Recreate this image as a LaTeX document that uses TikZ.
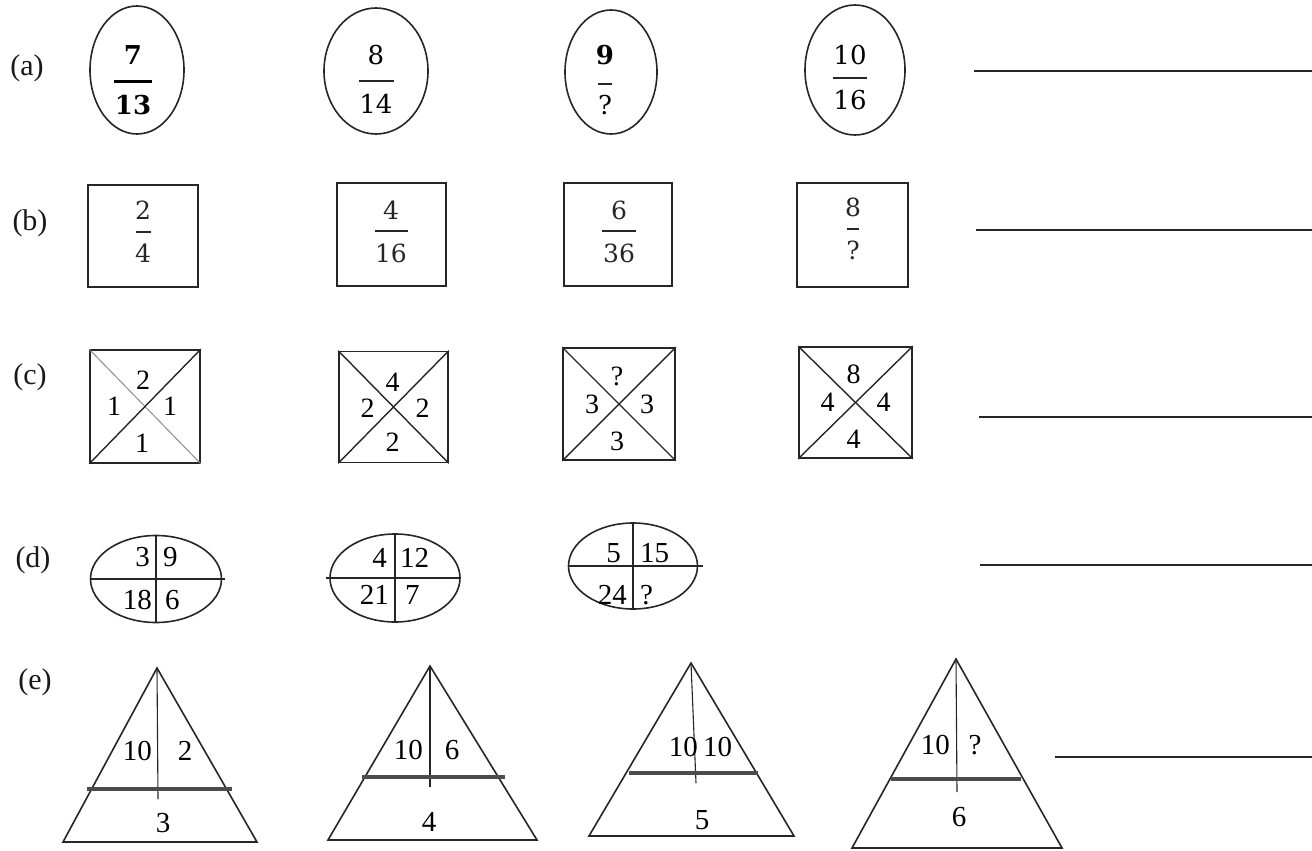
\documentclass[tikz,border=0pt]{standalone}
\usepackage{fontspec}
\usetikzlibrary{shapes.geometric,calc}
\newfontfamily\tms{Liberation Serif}
\newfontfamily\frf{DejaVu Serif}
\begin{document}
\begin{tikzpicture}[x=1pt,y=-1pt,
  ink/.style={draw=black!85, line width=1.6pt},
  lbl/.style={font=\tms\fontsize{30}{32}\selectfont, inner sep=0pt, text=black!90},
  fa/.style={font=\frf\fontsize{26}{30}\selectfont, inner sep=0pt},
  fab/.style={font=\frf\bfseries\fontsize{26}{30}\selectfont, inner sep=0pt},
  fb/.style={font=\frf\fontsize{25}{28}\selectfont, inner sep=0pt, text=black!85},
  nc/.style={font=\tms\fontsize{28}{30}\selectfont, inner sep=0pt},
  nd/.style={font=\tms\fontsize{29}{32}\selectfont, inner sep=0pt},
  oval/.style={ellipse, ink, inner sep=0pt},
  sq/.style={rectangle, ink, inner sep=0pt},
  fbar/.style={draw=black!85, line width=2pt},
  fbarb/.style={draw=black, line width=3pt},
  shelf/.style={draw=black!70, line width=4pt},
  axis/.style={draw=black!85, line width=1.1pt},
  ans/.style={draw=black!85, line width=1.8pt},
]
\useasboundingbox (0,0) rectangle (1312,851);

% ---------- (a)
\node[lbl] (la) at (27,68) {(a)};
\node[oval, minimum width=94, minimum height=128] (A1) at (137,70) {};
\node[oval, minimum width=104, minimum height=126] (A2) at (376,71) {};
\node[oval, minimum width=92, minimum height=124] (A3) at (611,72) {};
\node[oval, minimum width=100, minimum height=130] (A4) at (855,70) {};
\node[fab] (a1n) at (133,55) {7};
\draw[fbarb] (114,82) -- (152,82);
\node[fab] (a1d) at (133,105) {13};
\node[fa] (a2n) at (376,55) {8};
\draw[fbar] (359,81) -- (394,81);
\node[fa] (a2d) at (376,104) {14};
\node[fab] (a3n) at (605,55) {9};
\draw[fbar] (598,84) -- (612,84);
\node[fa] (a3d) at (605,105) {?};
\node[fa] (a4n) at (850,55) {10};
\draw[fbar] (833,78) -- (867,78);
\node[fa] (a4d) at (850,100) {16};
\coordinate (ansa1) at (974,71);
\coordinate (ansa2) at (1312,71);
\draw[ans] (ansa1) -- (ansa2);

% ---------- (b)
\node[lbl] (lb) at (30,223) {(b)};
\node[sq, minimum width=110, minimum height=102] (B1) at (143,236) {};
\node[sq, minimum width=109, minimum height=103] (B2) at (391.5,234.5) {};
\node[sq, minimum width=108, minimum height=103] (B3) at (618,234.5) {};
\node[sq, minimum width=111, minimum height=104] (B4) at (852.5,235) {};
\node[fb] (b1n) at (143,210) {2};
\draw[fbar] (136,232) -- (151,232);
\node[fb] (b1d) at (143,253) {4};
\node[fb] (b2n) at (391,210) {4};
\draw[fbar] (375,231) -- (408,231);
\node[fb] (b2d) at (391,253) {16};
\node[fb] (b3n) at (619,210) {6};
\draw[fbar] (602,231) -- (636,231);
\node[fb] (b3d) at (619,253) {36};
\node[fb] (b4n) at (853,207) {8};
\draw[fbar] (847,229) -- (859,229);
\node[fb] (b4d) at (853,250) {?};
\coordinate (ansb1) at (976,230);
\coordinate (ansb2) at (1312,230);
\draw[ans] (ansb1) -- (ansb2);

% ---------- (c)
\node[lbl] (lc) at (30,377) {(c)};
\node[sq, minimum width=110, minimum height=113] (C1) at (145,406.5) {};
\node[sq, minimum width=109, minimum height=111] (C2) at (393.5,407) {};
\node[sq, minimum width=112, minimum height=112] (C3) at (619,404) {};
\node[sq, minimum width=113, minimum height=111] (C4) at (855.5,402.5) {};
\draw[draw=black!45, line width=1pt] (C1.north west) -- (C1.south east);
\draw[ink, line width=1.4pt] (C1.south west) -- (C1.north east);
\foreach \c in {C2,C3,C4}{
  \draw[ink, line width=1.4pt] (\c.north west) -- (\c.south east);
  \draw[ink, line width=1.4pt] (\c.south west) -- (\c.north east);
}
\node[nc] (c1t) at ($(C1.center)+(-2,-26)$) {2};
\node[nc] (c1l) at ($(C1.center)+(-31,0)$) {1};
\node[nc] (c1r) at ($(C1.center)+(25,0)$) {1};
\node[nc] (c1b) at ($(C1.center)+(-3,37)$) {1};
\node[nc] (c2t) at ($(C2.center)+(-1,-25)$) {4};
\node[nc] (c2l) at ($(C2.center)+(-26,1)$) {2};
\node[nc] (c2r) at ($(C2.center)+(29,1)$) {2};
\node[nc] (c2b) at ($(C2.center)+(-1,35)$) {2};
\node[nc] (c3t) at ($(C3.center)+(-2,-28)$) {?};
\node[nc] (c3l) at ($(C3.center)+(-27,0)$) {3};
\node[nc] (c3r) at ($(C3.center)+(28,0)$) {3};
\node[nc] (c3b) at ($(C3.center)+(-2,37)$) {3};
\node[nc] (c4t) at ($(C4.center)+(-2,-28)$) {8};
\node[nc] (c4l) at ($(C4.center)+(-28,0)$) {4};
\node[nc] (c4r) at ($(C4.center)+(28,0)$) {4};
\node[nc] (c4b) at ($(C4.center)+(-2,37)$) {4};
\coordinate (ansc1) at (979,417);
\coordinate (ansc2) at (1312,417);
\draw[ans] (ansc1) -- (ansc2);

% ---------- (d)
\node[lbl] (ld) at (33,560) {(d)};
\node[oval, minimum width=131, minimum height=87] (D1) at (156,579) {};
\node[oval, minimum width=130, minimum height=88] (D2) at (395,578) {};
\node[oval, minimum width=129, minimum height=86] (D3) at (633,566) {};
\foreach \d in {D1,D2,D3}{
  \draw[axis, line width=1.4pt] (\d.north) -- (\d.south);
}
\draw[axis, line width=1.4pt] (D1.west) -- ([xshift=3pt]D1.east);
\draw[axis, line width=1.4pt] ([xshift=-3pt]D2.west) -- (D2.east);
\draw[axis, line width=1.4pt] (D3.west) -- ([xshift=5pt]D3.east);
\node[nd, anchor=east] (d1a) at ($(D1.center)+(-6,-22)$) {3};
\node[nd, anchor=west] (d1b) at ($(D1.center)+(7,-22)$) {9};
\node[nd, anchor=east] (d1c) at ($(D1.center)+(-4,21)$) {18};
\node[nd, anchor=west] (d1d) at ($(D1.center)+(9,21)$) {6};
\node[nd, anchor=east] (d2a) at ($(D2.center)+(-8,-20)$) {4};
\node[nd, anchor=west] (d2b) at ($(D2.center)+(5,-20)$) {12};
\node[nd, anchor=east] (d2c) at ($(D2.center)+(-6,17)$) {21};
\node[nd, anchor=west] (d2d) at ($(D2.center)+(10,17)$) {7};
\node[nd, anchor=east] (d3a) at ($(D3.center)+(-12,-13)$) {5};
\node[nd, anchor=west] (d3b) at ($(D3.center)+(7,-13)$) {15};
\node[nd, anchor=east] (d3c) at ($(D3.center)+(-6,29)$) {24};
\node[nd, anchor=west] (d3d) at ($(D3.center)+(7,29)$) {?};
\coordinate (ansd1) at (980,565);
\coordinate (ansd2) at (1312,565);
\draw[ans] (ansd1) -- (ansd2);

% ---------- (e)
\node[lbl] (le) at (35,682) {(e)};
% triangle 1
\coordinate (t1a) at (157,668); \coordinate (t1l) at (63,842); \coordinate (t1r) at (257,842);
\draw[ink, line join=miter] (t1a) -- (t1l) -- (t1r) -- cycle;
\draw[axis] (t1a) -- (158,799);
\draw[shelf] (87,789) -- (232,789);
\node[nd, anchor=east] (e1a) at (152,751) {10};
\node[nd] (e1b) at (185,751) {2};
\node[nd] (e1c) at (163,823) {3};
% triangle 2
\coordinate (t2a) at (430,666); \coordinate (t2l) at (328,840); \coordinate (t2r) at (537,840);
\draw[ink, line join=miter] (t2a) -- (t2l) -- (t2r) -- cycle;
\draw[axis] (t2a) -- (430,787);
\draw[shelf] (362,777) -- (505,777);
\node[nd, anchor=east] (e2a) at (423,750) {10};
\node[nd] (e2b) at (452,750) {6};
\node[nd] (e2c) at (429,822) {4};
% triangle 3
\coordinate (t3a) at (691,663); \coordinate (t3l) at (589,836); \coordinate (t3r) at (794,836);
\draw[ink, line join=miter] (t3a) -- (t3l) -- (t3r) -- cycle;
\draw[axis] (t3a) -- (696,783);
\draw[shelf] (629,773) -- (758,773);
\node[nd, anchor=east] (e3a) at (698,747) {10};
\node[nd, anchor=west] (e3b) at (703,747) {10};
\node[nd] (e3c) at (702,820) {5};
% triangle 4
\coordinate (t4a) at (956,659); \coordinate (t4l) at (852,848); \coordinate (t4r) at (1062,848);
\draw[ink, line join=miter] (t4a) -- (t4l) -- (t4r) -- cycle;
\draw[axis] (t4a) -- (957,792);
\draw[shelf] (891,779) -- (1021,779);
\node[nd, anchor=east] (e4a) at (950,745) {10};
\node[nd] (e4b) at (975,745) {?};
\node[nd] (e4c) at (959,817) {6};
\coordinate (anse1) at (1055,757);
\coordinate (anse2) at (1312,757);
\draw[ans] (anse1) -- (anse2);
\end{tikzpicture}
\end{document}
